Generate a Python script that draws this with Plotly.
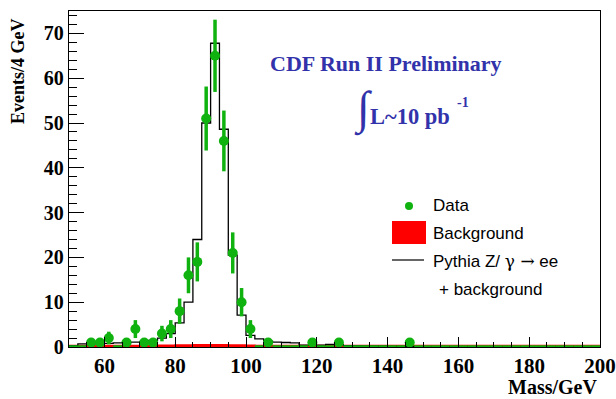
import numpy as np
import plotly.graph_objects as go

# ---- data (2.5 GeV bins from 50 to 200) ----
bin_lo = 50.0
bin_w = 2.5
n_bins = 60

data_counts = [0, 0, 1, 1, 2, 0, 1, 4, 1, 1, 3, 4, 8, 16, 19, 51, 65, 46, 21, 10,
               4, 0, 1, 0, 0, 0, 0, 1, 0, 0, 1, 0, 0, 0, 0, 0, 0, 0, 1, 0,
               0, 0, 0, 0, 0, 0, 0, 0, 0, 0, 0, 0, 0, 0, 0, 0, 0, 0, 0, 0]

mc_values = [0.3, 0.7, 0.7, 0.8, 0.8, 0.9, 1.0, 1.1, 1.2, 1.5, 2.0, 3.0, 5.4, 10.0, 24.0,
             50.0, 67.8, 48.6, 20.5, 7.1, 2.6, 1.8, 1.3, 1.1, 1.0, 0.9, 0.4, 0.4, 0.4, 0.6,
             0.6, 0.3, 0.25, 0.2, 0.2, 0.2, 0.15, 0.15, 0.15, 0.1, 0.1, 0.1, 0.1, 0.1, 0.1,
             0.1, 0.05, 0.05, 0.05, 0.05, 0.05, 0.05, 0.05, 0.05, 0.05, 0.05, 0.05, 0.05, 0.05, 0.05]

bkg_values = [0.3, 0.3, 0.3, 0.3, 0.3, 0.3, 0.3, 0.3, 0.3, 0.3, 0.35, 0.35, 0.4, 0.4, 0.45,
              0.45, 0.45, 0.45, 0.4, 0.4, 0.35, 0.3, 0.3, 0.3, 0.3, 0.3, 0.3, 0.3, 0.3, 0.3,
              0.3, 0.3, 0.3, 0.3, 0.3, 0.3, 0.3, 0.3, 0.3, 0.3, 0.3, 0.3, 0.3, 0.3, 0.3,
              0.3, 0.3, 0.3, 0.3, 0.3, 0.3, 0.3, 0.3, 0.3, 0.3, 0.3, 0.3, 0.3, 0.3, 0.3]

x_tick_vals = [60, 80, 100, 120, 140, 160, 180, 200]
y_tick_vals = [0, 10, 20, 30, 40, 50, 60, 70]

GREEN = "rgb(15,178,15)"
BLUE = "rgb(50,50,170)"

edges = bin_lo + bin_w * np.arange(n_bins + 1)
centers = edges[:-1] + bin_w / 2
counts = np.array(data_counts, dtype=float)

fig = go.Figure()

# background (red filled histogram)
fig.add_trace(go.Scatter(
    x=list(edges), y=list(bkg_values) + [bkg_values[-1]],
    mode="lines", line=dict(color="red", width=2, shape="hv"),
    fill="tozeroy", fillcolor="red", hoverinfo="skip", showlegend=False))

# MC histogram (black step line)
fig.add_trace(go.Scatter(
    x=list(edges), y=list(mc_values) + [mc_values[-1]],
    mode="lines", line=dict(color="black", width=1.3, shape="hv"),
    hoverinfo="skip", showlegend=False))

# zero-content data bins: horizontal bars on the axis
zero = counts == 0
fig.add_trace(go.Scatter(
    x=centers[zero], y=counts[zero], mode="markers",
    marker=dict(size=0.1, color=GREEN),
    error_x=dict(type="constant", value=bin_w / 2, color=GREEN, thickness=3.5, width=0),
    hoverinfo="skip", showlegend=False))

# non-zero data bins
nz = counts > 0
fig.add_trace(go.Scatter(
    x=centers[nz], y=counts[nz], mode="markers",
    marker=dict(size=10, color=GREEN),
    error_y=dict(type="data", array=np.sqrt(counts[nz]), color=GREEN, thickness=3.5, width=0),
    hoverinfo="skip", showlegend=False))

L, R, T, B = 69, 16, 11, 52
W, H = 616, 399
pw, ph = W - L - R, H - T - B

def px(xp):
    return (xp - L) / pw

def py(yp):
    return (H - B - yp) / ph

serif = "Liberation Serif"
sans = "Liberation Sans"

fig.update_layout(
    width=W, height=H,
    margin=dict(l=L, r=R, t=T, b=B, autoexpand=False),
    paper_bgcolor="white", plot_bgcolor="white",
    xaxis=dict(range=[50, 200], tickvals=x_tick_vals, ticks="inside", ticklen=10, tickwidth=1.2,
               tickcolor="black", showgrid=False, zeroline=False, showline=True, linecolor="black",
               linewidth=1.3, mirror=True, automargin=False,
               tickfont=dict(family=serif, size=21, color="black", weight="bold"),
               minor=dict(dtick=5, tick0=0, ticks="inside", ticklen=5, tickcolor="black", tickwidth=1, showgrid=False)),
    yaxis=dict(range=[0, 75], tickvals=y_tick_vals, ticks="inside", ticklen=15, tickwidth=1.2,
               tickcolor="black", showgrid=False, zeroline=False, showline=True, linecolor="black",
               linewidth=1.3, mirror=True, automargin=False,
               tickfont=dict(family=serif, size=20, color="black", weight="bold"),
               minor=dict(dtick=2, tick0=0, ticks="inside", ticklen=8, tickcolor="black", tickwidth=1, showgrid=False)),
)

ann = []
# axis titles
ann.append(dict(text="Events/4 GeV", textangle=-90, x=px(18), y=py(71), xref="paper", yref="paper",
                xanchor="center", yanchor="middle", showarrow=False,
                font=dict(family=serif, size=18, color="black", weight="bold")))
ann.append(dict(text="Mass/GeV", x=px(599), y=py(387), xref="paper", yref="paper",
                xanchor="right", yanchor="middle", showarrow=False,
                font=dict(family=serif, size=20, color="black", weight="bold")))
# CDF label
ann.append(dict(text="CDF Run II Preliminary", x=px(386), y=py(63), xref="paper", yref="paper",
                xanchor="center", yanchor="middle", showarrow=False,
                font=dict(family=serif, size=22, color=BLUE, weight="bold")))
ann.append(dict(text="\u222b", x=px(363), y=py(109), xref="paper", yref="paper",
                xanchor="center", yanchor="middle", showarrow=False,
                font=dict(family=serif, size=46, color=BLUE)))
ann.append(dict(text="L~10 pb", x=px(368), y=py(116), xref="paper", yref="paper",
                xanchor="left", yanchor="middle", showarrow=False,
                font=dict(family=serif, size=22.5, color=BLUE, weight="bold")))
ann.append(dict(text="-1", x=px(455), y=py(102), xref="paper", yref="paper",
                xanchor="left", yanchor="middle", showarrow=False,
                font=dict(family=serif, size=14, color=BLUE, weight="bold")))
# legend texts
leg_font = dict(family=sans, size=17, color="black")
for txt, xp, yp in [("Data", 431, 206), ("Background", 431, 233),
                    ("Pythia Z/ <span style='font-family:DejaVu Serif'>\u03b3 \u2192</span> ee", 431, 261),
                    ("+ background", 437, 289)]:
    ann.append(dict(text=txt, x=px(xp), y=py(yp), xref="paper", yref="paper",
                    xanchor="left", yanchor="middle", showarrow=False, font=leg_font))
fig.update_layout(annotations=ann)

shapes = []
shapes.append(dict(type="circle", xref="paper", yref="paper",
                   x0=px(405), x1=px(413), y0=py(210), y1=py(202),
                   fillcolor=GREEN, line=dict(width=0)))
shapes.append(dict(type="path", xref="paper", yref="paper",
                   path="M {a},{b} L {c},{b} L {c},{d} L {a},{d} Z".format(
                       a=px(393), b=py(222), c=px(425), d=py(243)),
                   fillcolor="red", line=dict(color="red", width=2)))
shapes.append(dict(type="line", xref="paper", yref="paper",
                   x0=px(392), x1=px(424), y0=py(260), y1=py(260),
                   line=dict(color="black", width=1.2)))
fig.update_layout(shapes=shapes)

fig.write_html("out.html")
